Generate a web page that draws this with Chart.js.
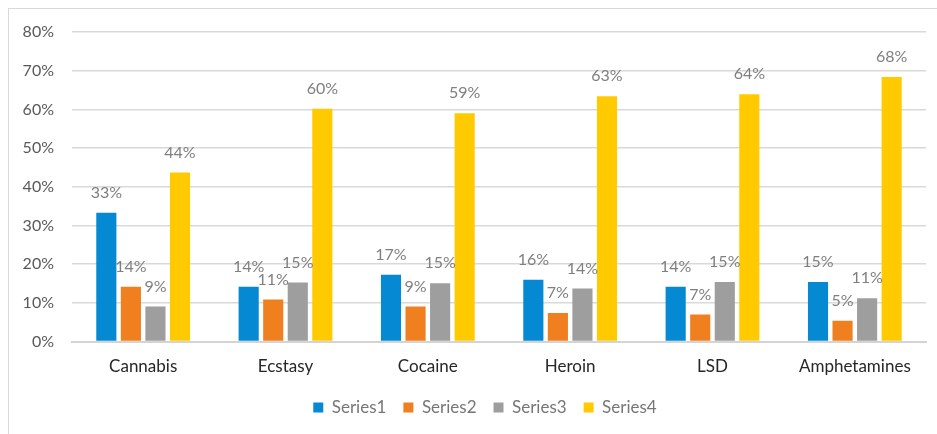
<!DOCTYPE html>
<html>
<head>
<meta charset="utf-8">
<script src="https://cdn.jsdelivr.net/npm/chart.js@4"></script>
<style>
  html, body { margin: 0; padding: 0; background: #fff; }
  #wrap { position: relative; width: 937px; height: 434px; overflow: hidden; }
  #frame { position: absolute; left: 8px; top: 8px; width: 960px; height: 460px;
           border-left: 1.5px solid #d9d9d9; border-top: 1.5px solid #d9d9d9; }
  canvas { position: absolute; left: 0; top: 0; }
</style>
</head>
<body>
<div id="wrap">
  <div id="frame"></div>
  <canvas id="c" width="937" height="434"></canvas>
</div>
<script>
// Share of respondents per substance (percent)
const categories = ['Cannabis', 'Ecstasy', 'Cocaine', 'Heroin', 'LSD', 'Amphetamines'];
const series1 = [33.3, 14.2, 17.3, 16.0, 14.2, 15.4];
const series2 = [14.2, 10.9, 9.1, 7.4, 7.0, 5.4];
const series3 = [9.1, 15.3, 15.1, 13.7, 15.4, 11.2];
const series4 = [43.7, 60.2, 59.0, 63.4, 63.9, 68.4];
const seriesNames = ['Series1', 'Series2', 'Series3', 'Series4'];
const yTicks = [0, 10, 20, 30, 40, 50, 60, 70, 80];

const colors = ['#0589D2', '#EF7F1F', '#9E9E9E', '#FFCA00'];
const FONT = 'Lato, "Open Sans", sans-serif';

// Percent labels above each bar
const valueLabels = {
  id: 'valueLabels',
  afterDatasetsDraw(chart) {
    const ctx = chart.ctx;
    ctx.save();
    ctx.font = '16px ' + FONT;
    ctx.fillStyle = '#7f7f7f';
    ctx.textAlign = 'center';
    ctx.textBaseline = 'middle';
    chart.data.datasets.forEach((ds, i) => {
      chart.getDatasetMeta(i).data.forEach((bar, j) => {
        ctx.fillText(Math.round(ds.data[j]) + '%', bar.x, bar.y - 20);
      });
    });
    ctx.restore();
  }
};

// Nudge the legend so it centres under the plot rather than the whole canvas
const legendOffset = {
  id: 'legendOffset',
  afterLayout(chart) {
    if (chart.legend) chart.legend.left = 44;
  }
};

const allSeries = [series1, series2, series3, series4];

new Chart(document.getElementById('c'), {
  type: 'bar',
  data: {
    labels: categories,
    datasets: allSeries.map((d, i) => ({
      label: seriesNames[i],
      data: d,
      backgroundColor: colors[i],
      borderWidth: 0,
      categoryPercentage: 0.69,
      barPercentage: 0.82
    }))
  },
  options: {
    responsive: false,
    animation: false,
    layout: { padding: { left: 0, top: 32, right: 11, bottom: 8 } },
    plugins: {
      tooltip: { enabled: false },
      legend: {
        position: 'bottom',
        labels: {
          boxWidth: 10, boxHeight: 10, padding: 17,
          color: '#767676',
          font: { family: FONT, size: 17 }
        }
      }
    },
    scales: {
      x: {
        grid: { display: false },
        border: { color: '#d4d4d4', width: 2 },
        afterFit(scale) { scale.height -= 2; },
        ticks: { color: '#262626', padding: 7, font: { family: FONT, size: 17 } }
      },
      y: {
        min: 0, max: 80,
        afterBuildTicks(scale) { scale.ticks = yTicks.map(v => ({ value: v })); },
        afterFit(scale) { scale.width = 72; },
        grid: { color: '#d9d9d9', lineWidth: 1.5, drawTicks: false },
        border: { display: false },
        ticks: {
          color: '#595959', padding: 18,
          font: { family: FONT, size: 16 },
          callback: v => v + '%'
        }
      }
    }
  },
  plugins: [valueLabels, legendOffset]
});
</script>
</body>
</html>
